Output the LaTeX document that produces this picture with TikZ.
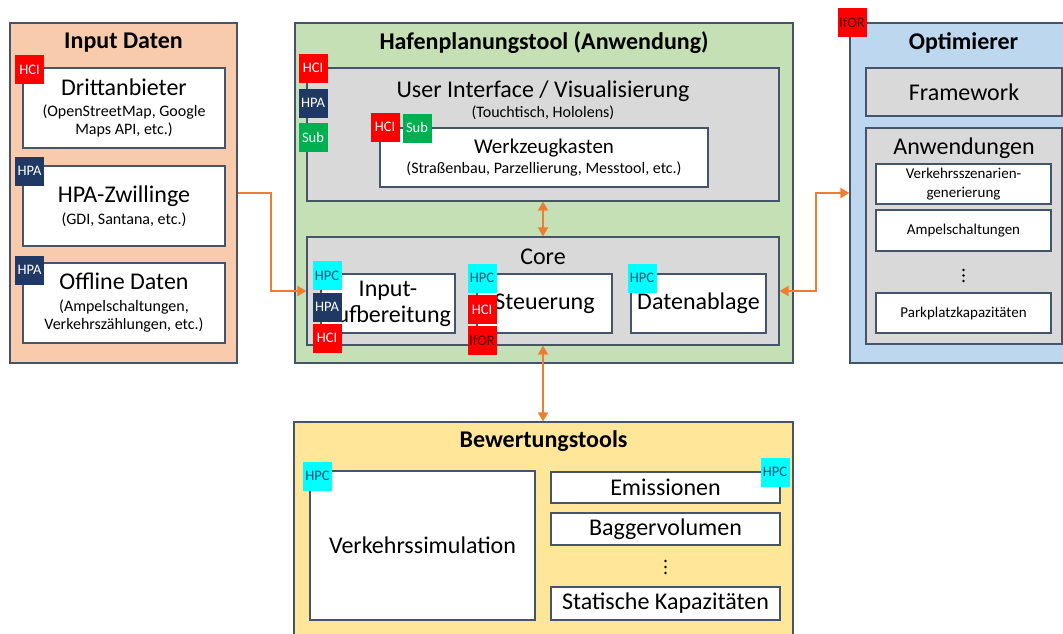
\documentclass[tikz,border=0pt]{standalone}
\usepackage{fontspec}
\setmainfont{Carlito}
\usetikzlibrary{arrows.meta}
\definecolor{peach}{HTML}{F8CBAD}
\definecolor{appgreen}{HTML}{C5E0B4}
\definecolor{optblue}{HTML}{BDD7EE}
\definecolor{bewyellow}{HTML}{FFE699}
\definecolor{boxgray}{HTML}{D9D9D9}
\definecolor{frame}{HTML}{44546A}
\definecolor{linkorange}{HTML}{ED7D31}
\definecolor{navy}{HTML}{1F3864}
\definecolor{subgreen}{HTML}{00B050}
\definecolor{tagcyan}{HTML}{00FFFF}
\definecolor{hpctext}{HTML}{1F4E79}
\definecolor{ifortext}{HTML}{5A0000}
\newcommand\bigtxt{\fontsize{24}{27}\selectfont}
\newcommand\midtxt{\fontsize{21}{24}\selectfont}
\newcommand\subtxt{\fontsize{16}{19}\selectfont}
\newcommand\smltxt{\fontsize{15}{19}\selectfont}
\newcommand\tagtxt{\fontsize{14.5}{16}\selectfont}

\begin{document}
\begin{tikzpicture}[x=1pt,y=-1pt,
  box/.style={draw=frame,line width=1.2pt,inner sep=0pt,align=center},
  wbox/.style={box,fill=white,font=\bigtxt},
  gbox/.style={box,fill=boxgray,font=\bigtxt},
  hdr/.style={font=\bigtxt\bfseries,inner sep=0pt},
  lbl/.style={font=\bigtxt,inner sep=0pt,align=center},
  tagbox/.style={minimum size=29pt,inner sep=0pt,font=\tagtxt},
  tagHCI/.style={tagbox,fill=red,text=white},
  tagHPA/.style={tagbox,fill=navy,text=white},
  tagSub/.style={tagbox,fill=subgreen,text=white},
  tagHPC/.style={tagbox,fill=tagcyan,text=hpctext},
  tagIfOR/.style={tagbox,fill=red,text=ifortext},
  link/.style={draw=linkorange,line width=2pt,arrows={-Triangle[length=9pt,width=10pt]}},
  dlink/.style={link,arrows={Triangle[length=9pt,width=10pt]-Triangle[length=9pt,width=10pt]}}]
\useasboundingbox (0,0) rectangle (1063,633);
%% Input Daten
\node[box,fill=peach,minimum width=227,minimum height=340] (indat) at (123.5,193) {};
\node[hdr] (indatT) at (123.5,43) {Input Daten};
\node[wbox,minimum width=202,minimum height=80] (dritt) at (124,108)
  {Drittanbieter\\[-6pt]\subtxt (OpenStreetMap, Google\\[-9pt]\subtxt Maps API, etc.)};
\node[wbox,minimum width=202,minimum height=80] (zwill) at (124,206)
  {HPA-Zwillinge\\[-5pt]\subtxt (GDI, Santana, etc.)};
\node[wbox,minimum width=202,minimum height=80] (offl) at (124,303)
  {Offline Daten\\[-5pt]\subtxt (Ampelschaltungen,\\[-9pt]\subtxt Verkehrszählungen, etc.)};
\node[tagHCI] (dritt1) at (29.5,69.5) {HCI};
\node[tagHPA] (zwill1) at (29.5,171) {HPA};
\node[tagHPA] (offl1) at (29.5,270) {HPA};
%% Hafenplanungstool
\node[box,fill=appgreen,minimum width=498,minimum height=340] (hafen) at (544,193) {};
\node[hdr] (hafenT) at (544,43) {Hafenplanungstool (Anwendung)};
\node[gbox,minimum width=472,minimum height=133] (ui) at (543,134.5) {};
\node[lbl] (uiT) at (543,100) {User Interface / Visualisierung\\[-7pt]\subtxt (Touchtisch, Hololens)};
\node[wbox,minimum width=328,minimum height=59] (werkz) at (544,157.5)
  {\midtxt Werkzeugkasten\\[-7pt]\subtxt (Straßenbau, Parzellierung, Messtool, etc.)};
\node[gbox,minimum width=472,minimum height=108] (core) at (543,291) {};
\node[lbl] (coreT) at (543,257) {Core};
\node[wbox,minimum width=134,minimum height=59] (inaufb) at (388,303.5) {Input-\\[-1pt]aufbereitung};
\node[wbox,minimum width=135,minimum height=59] (steuer) at (544.5,303.5) {Steuerung};
\node[wbox,minimum width=135,minimum height=59] (ablage) at (698.5,303.5) {Datenablage};
\node[tagHCI] (ui1) at (313,68) {HCI};
\node[tagHPA] (ui2) at (313,103) {HPA};
\node[tagSub] (ui3) at (313,137.5) {Sub};
\node[tagHCI] (werkz1) at (385,127) {HCI};
\node[tagSub] (werkz2) at (417,128) {Sub};
\node[tagHPC] (inaufb1) at (327,275.5) {HPC};
\node[tagHPA] (inaufb2) at (327,307) {HPA};
\node[tagHCI] (inaufb3) at (327,338) {HCI};
\node[tagHPC] (steuer1) at (482,278) {HPC};
\node[tagHCI] (steuer2) at (482,309.5) {HCI};
\node[tagIfOR] (steuer3) at (482,340.5) {IfOR};
\node[tagHPC] (ablage1) at (642,278) {HPC};
%% Optimierer
\node[box,fill=optblue,minimum width=227,minimum height=340] (opt) at (963.5,193) {};
\node[hdr] (optT) at (963.5,43) {Optimierer};
\node[gbox,minimum width=196,minimum height=48] (frame) at (964,92) {Framework};
\node[gbox,minimum width=196,minimum height=216] (anw) at (964,236) {};
\node[lbl] (anwT) at (964,148) {Anwendungen};
\node[wbox,minimum width=175,minimum height=40,font=\smltxt] (szen) at (963.5,184)
  {Verkehrsszenarien-\\generierung};
\node[wbox,minimum width=175,minimum height=41,font=\smltxt] (ampel) at (963.5,230.5) {Ampelschaltungen};
\node[wbox,minimum width=175,minimum height=40,font=\smltxt] (park) at (963.5,313) {Parkplatzkapazitäten};
\node[tagIfOR] (opt1) at (852,22.5) {IfOR};
\foreach \y in {270,275.5,281} \fill (963.5,\y) circle (1.3);
%% Bewertungstools
\node[box,fill=bewyellow,minimum width=499,minimum height=240] (bew) at (543.5,542) {};
\node[hdr] (bewT) at (543.5,441) {Bewertungstools};
\node[wbox,minimum width=225,minimum height=149] (vsim) at (422.5,545.5) {Verkehrssimulation};
\node[wbox,minimum width=229,minimum height=31] (emis) at (665.5,487.5) {Emissionen};
\node[wbox,minimum width=229,minimum height=32] (bagger) at (665.5,529) {Baggervolumen};
\node[wbox,minimum width=229,minimum height=33] (statik) at (665.5,603.5) {Statische Kapazitäten};
\node[tagHPC] (vsim1) at (317.5,476) {HPC};
\node[tagHPC] (emis1) at (775,472) {HPC};
\foreach \y in {561,567,573} \fill (665.5,\y) circle (1.3);
%% Verbindungen
\draw[link] (indat.east) -- ++(33,0) |- (core.west);
\draw[dlink] (core.east) -- ++(36,0) |- (opt.west);
\draw[dlink] (ui.south) -- (core.north);
\draw[dlink] (core.south) -- (core.south |- bew.north);
\end{tikzpicture}
\end{document}
